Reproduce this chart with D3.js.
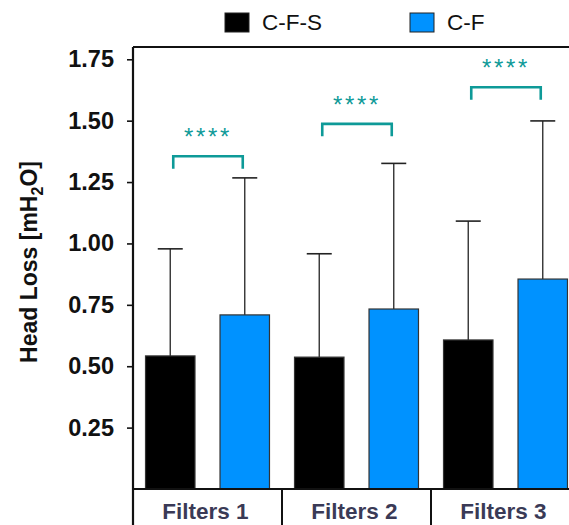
<!DOCTYPE html>
<html>
<head>
<meta charset="utf-8">
<script src="https://cdn.jsdelivr.net/npm/d3@7"></script>
<style>
  body { margin: 0; background: #fff; }
  text { font-family: "Liberation Sans", Arial, sans-serif; }
</style>
</head>
<body>
<div id="chart"></div>
<script>
// datos
const categories = ["Filters 1", "Filters 2", "Filters 3"]
const series = ["C-F-S", "C-F"]
const meanCFS = [0.542, 0.537, 0.607]
const meanCF = [0.709, 0.733, 0.855]
const sdCFS = [0.436, 0.421, 0.484]
const sdCF = [0.558, 0.593, 0.644]
const yTicks = [0.25, 0.50, 0.75, 1.00, 1.25, 1.50, 1.75]
const sigLevels = [1.355, 1.487, 1.636]
const sigLabels = ["****", "****", "****"]

const colors = ["#000000", "#0092ff"]
const teal = "#0e9a98"

const width = 569
const height = 525
const margin = { top: 47, bottom: 36, right: -11, left: 133 }
const innerW = width - margin.left - margin.right
const innerH = height - margin.top - margin.bottom

const svg = d3.select("div#chart").append("svg").attr("width", width).attr("height", height)
const plot = svg.append("g").attr("transform", `translate(${margin.left}, ${margin.top})`)

const x = d3.scaleBand().domain(categories).range([0, innerW]).padding(0)
const xs = d3.scaleBand().domain(series).range([0, x.bandwidth()]).paddingInner(0.336).paddingOuter(0.168)
const y = d3.scaleLinear().domain([0, 1.8]).range([innerH, 0])

const rows = categories.map((c, i) => ({
    cat: c,
    vals: [
        { s: series[0], m: meanCFS[i], sd: sdCFS[i], color: colors[0] },
        { s: series[1], m: meanCF[i], sd: sdCF[i], color: colors[1] }
    ]
}))

// barras
const groups = plot.selectAll("g.cat").data(rows).join("g")
    .attr("class", "cat")
    .attr("transform", d => `translate(${x(d.cat)},0)`)

// error bars (solo hacia arriba)
groups.selectAll("line.err").data(d => d.vals).join("line")
    .attr("x1", d => xs(d.s) + xs.bandwidth() / 2)
    .attr("x2", d => xs(d.s) + xs.bandwidth() / 2)
    .attr("y1", d => y(d.m))
    .attr("y2", d => y(d.m + d.sd))
    .attr("stroke", "#333").attr("stroke-width", 1.4)
groups.selectAll("line.cap").data(d => d.vals).join("line")
    .attr("x1", d => xs(d.s) + xs.bandwidth() / 2 - 12.5)
    .attr("x2", d => xs(d.s) + xs.bandwidth() / 2 + 12.5)
    .attr("y1", d => y(d.m + d.sd))
    .attr("y2", d => y(d.m + d.sd))
    .attr("stroke", "#222").attr("stroke-width", 1.6)

groups.selectAll("rect").data(d => d.vals).join("rect")
    .attr("x", d => xs(d.s))
    .attr("width", xs.bandwidth())
    .attr("y", d => y(d.m))
    .attr("height", d => y(0) - y(d.m))
    .attr("fill", d => d.color)
    .attr("stroke", "#333").attr("stroke-width", 1.2)

// significancia
rows.forEach((d, i) => {
    const x1 = x(d.cat) + xs(series[0]) + xs.bandwidth() / 2 + 3
    const x2 = x(d.cat) + xs(series[1]) + xs.bandwidth() / 2 - 2
    const yb = y(sigLevels[i])
    plot.append("path")
        .attr("d", `M${x1},${yb + 12.5}V${yb}H${x2}V${yb + 12.5}`)
        .attr("fill", "none").attr("stroke", teal).attr("stroke-width", 2.6)
    plot.append("text")
        .attr("x", (x1 + x2) / 2).attr("y", yb - 11)
        .attr("text-anchor", "middle")
        .attr("font-size", 24).attr("letter-spacing", 2.6)
        .attr("fill", teal)
        .text(sigLabels[i])
})

// marco
plot.append("line").attr("x1", 0).attr("x2", innerW).attr("y1", 0).attr("y2", 0)
    .attr("stroke", "#111").attr("stroke-width", 2)
plot.append("line").attr("x1", 0).attr("x2", innerW).attr("y1", innerH).attr("y2", innerH)
    .attr("stroke", "#111").attr("stroke-width", 2.2)
plot.append("line").attr("x1", 0).attr("x2", 0).attr("y1", 0).attr("y2", height - margin.top)
    .attr("stroke", "#111").attr("stroke-width", 2.2)

// eje y
const yAxis = d3.axisLeft(y).tickValues(yTicks).tickFormat(d3.format(".2f")).tickSize(6).tickPadding(13)
const yAxisGroup = plot.append("g").call(yAxis)
yAxisGroup.select(".domain").remove()
yAxisGroup.selectAll(".tick line").attr("stroke", "#111").attr("stroke-width", 1.6)
yAxisGroup.selectAll(".tick text")
    .attr("font-family", "Liberation Sans, Arial, sans-serif")
    .attr("font-size", 23.5).attr("font-weight", "bold").attr("fill", "#111")

// tabla de categorías
const table = plot.append("g").attr("transform", `translate(0, ${innerH})`)
table.selectAll("line").data(categories).join("line")
    .attr("x1", d => x(d)).attr("x2", d => x(d))
    .attr("y1", 0).attr("y2", margin.bottom)
    .attr("stroke", "#111").attr("stroke-width", 2)
table.selectAll("text").data(categories).join("text")
    .attr("x", d => x(d) + x.bandwidth() / 2 - 2)
    .attr("y", 30)
    .attr("text-anchor", "middle")
    .attr("font-size", 22.5).attr("font-weight", "bold").attr("fill", "#3a3a56")
    .text(d => d)

// título eje y
const yt = svg.append("text")
    .attr("transform", `translate(37, 262) rotate(-90)`)
    .attr("text-anchor", "middle")
    .attr("font-size", 23).attr("font-weight", "bold").attr("fill", "#111")
yt.append("tspan").text("Head Loss [mH")
yt.append("tspan").attr("font-size", 16).attr("dy", 6).text("2")
yt.append("tspan").attr("dy", -6).text("O]")

// leyenda
const legendPos = [225, 410]
const legend = svg.selectAll("g.legend").data(series).join("g")
    .attr("class", "legend")
    .attr("transform", (d, i) => `translate(${legendPos[i]}, 13)`)
legend.append("rect").attr("width", 24).attr("height", 19)
    .attr("fill", (d, i) => colors[i]).attr("stroke", "#222").attr("stroke-width", 1)
legend.append("text").attr("x", 37).attr("y", 17)
    .attr("font-size", 22.5).attr("fill", "#111")
    .text(d => d)
</script>
</body>
</html>
